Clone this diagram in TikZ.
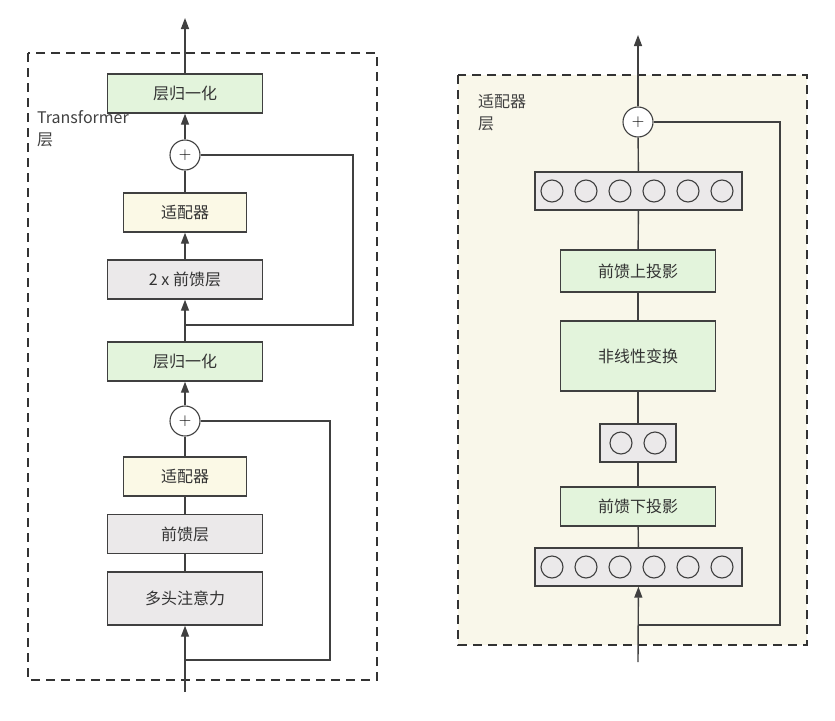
\documentclass[tikz,border=0pt]{standalone}
\usepackage{fontspec}
\setmainfont{Noto Sans CJK SC}
\usetikzlibrary{arrows.meta}
\definecolor{normgreen}{HTML}{E3F4DC}
\definecolor{adaptyellow}{HTML}{FBF9E6}
\definecolor{layergray}{HTML}{EBE9EA}
\definecolor{panelbg}{HTML}{F9F7EA}
\definecolor{linegray}{HTML}{404040}

\tikzset{
    blk/.style={draw=linegray, line width=1.4pt, minimum height=39pt, inner sep=0pt, font=\fontsize{16}{16}\selectfont, text=black!80},
    norm/.style={blk, fill=normgreen, minimum width=155pt},
    adapt/.style={blk, fill=adaptyellow, minimum width=123pt},
    ffn/.style={blk, fill=layergray, minimum width=155pt},
    plus/.style={circle, draw=linegray, fill=white, line width=1.1pt, minimum size=30pt, inner sep=0pt, font=\fontsize{18}{18}\selectfont},
    neuron/.style={circle, draw=linegray, line width=1.1pt, minimum size=22pt, inner sep=0pt},
    conn/.style={draw=linegray, line width=1.4pt},
    arr/.style={conn, -{Triangle[length=11pt, width=8pt]}},
    frame/.style={draw=black!80, line width=1.4pt, dash pattern=on 9pt off 6pt},
    lbl/.style={font=\fontsize{16}{22}\selectfont, text=black!75, align=left, anchor=north west, inner sep=0pt}
}

\begin{document}
\begin{tikzpicture}[x=1pt, y=-1pt]
        \useasboundingbox (0,0) rectangle (835,720);

        % Transformer layer frame
        \draw[frame] (28,53) rectangle (377,680);
        \node[lbl] (tlabel) at (37,110) {Transformer\\层};

        % Transformer layer blocks
        \node[norm]  (normtop) at (185,93.5) {层归一化};
        \node[plus]  (addtop)  at (185,155) {$+$};
        \node[adapt] (adapttop) at (185,212.5) {适配器};
        \node[ffn]   (ffntwo)  at (185,279.5) {2 x 前馈层};
        \node[norm]  (normmid) at (185,361.5) {层归一化};
        \node[plus]  (addlow)  at (185,421) {$+$};
        \node[adapt] (adaptlow) at (185,476.5) {适配器};
        \node[ffn]   (ffnone)  at (185,534) {前馈层};
        \node[ffn, minimum height=53pt] (attn) at (185,598.5) {多头注意力};
        \coordinate (outleft) at (185,18);
        \coordinate (inleft)  at (185,692);
        \coordinate (skiplow) at (185,660);
        \coordinate (skiptop) at (185,325);

        % Transformer layer connectors
        \draw[arr] (inleft) -- (attn);
        \draw[conn] (attn) -- (ffnone);
        \draw[conn] (ffnone) -- (adaptlow);
        \draw[conn] (adaptlow) -- (addlow);
        \draw[arr] (addlow) -- (normmid);
        \draw[arr] (normmid) -- (ffntwo);
        \draw[arr] (ffntwo) -- (adapttop);
        \draw[conn] (adapttop) -- (addtop);
        \draw[arr] (addtop) -- (normtop);
        \draw[arr] (normtop) -- (outleft);
        \draw[conn] (skiplow) -| (330,421) -- (addlow);
        \draw[conn] (skiptop) -| (353,155) -- (addtop);

        % Adapter layer frame
        \draw[frame, fill=panelbg] (458,75) rectangle (807,645);
        \node[lbl] (alabel) at (478,94) {适配器\\层};

        % Adapter layer blocks
        \node[plus] (addad) at (638,122) {$+$};
        \node[ffn, minimum width=207pt, minimum height=38pt] (upvec) at (638.5,191) {};
        \node[norm, minimum height=42pt] (upproj) at (638,271) {前馈上投影};
        \node[norm, minimum height=70pt] (nonlin) at (638,356) {非线性变换};
        \node[ffn, minimum width=76pt, minimum height=38pt] (downvec) at (638,443) {};
        \node[norm] (downproj) at (638,506.5) {前馈下投影};
        \node[ffn, minimum width=207pt, minimum height=38pt] (invec) at (638.5,567) {};
        \foreach \i in {0,...,5} {
            \node[neuron] (up\i) at (552+\i*34,191) {};
            \node[neuron] (in\i) at (552+\i*34,567) {};
        }
        \node[neuron] (mid0) at (621,443) {};
        \node[neuron] (mid1) at (655,443) {};
        \coordinate (outright) at (638,35);
        \coordinate (inright)  at (638,662);
        \coordinate (skipad)   at (638,625);

        % Adapter layer connectors
        \draw[arr] (inright) -- (invec);
        \draw[conn] (invec) -- (downproj);
        \draw[conn] (downproj) -- (downvec);
        \draw[conn] (downvec) -- (nonlin);
        \draw[conn] (nonlin) -- (upproj);
        \draw[conn] (upproj) -- (upvec);
        \draw[conn] (upvec) -- (addad);
        \draw[arr] (addad) -- (outright);
        \draw[conn] (skipad) -| (780,122) -- (addad);
    \end{tikzpicture}
\end{document}
